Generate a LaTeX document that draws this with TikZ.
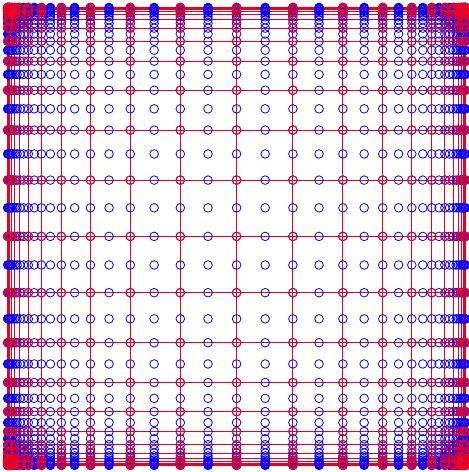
\documentclass[tikz,border=0pt]{standalone}
\usepackage{tikz}
\definecolor{meshRed}{RGB}{235,0,35}
\definecolor{meshBlue}{RGB}{0,0,255}

\begin{document}
\begin{tikzpicture}[x=1pt,y=1pt]
  \tikzstyle{coarse}=[meshRed,line width=1pt]
  \tikzstyle{finept}=[draw=meshBlue,line width=0.8pt]
  \tikzstyle{coarsept}=[draw=meshRed,line width=0.9pt]
  \useasboundingbox (0,0) rectangle (469,472);
  \coordinate (mid) at (236.6,235.6);

  % coarse mesh lines, tanh stretched
  \foreach \i in {-12,...,12}{
    \pgfmathsetmacro{\p}{230.1*tanh(0.25*\i)}
    \draw[coarse] ([xshift=\p]mid |- 0,6.6) -- ([xshift=\p]mid |- 0,464.6);
    \draw[coarse] ([yshift=\p]mid -| 7.6,0) -- ([yshift=\p]mid -| 465.6,0);
  }

  % fine points
  \foreach \i in {-24,...,24}{
    \pgfmathsetmacro{\p}{230.1*tanh(0.125*\i)}
    \foreach \j in {-24,...,24}{
      \pgfmathsetmacro{\q}{230.1*tanh(0.125*\j)}
      \draw[finept] ([shift={(\p,\q)}]mid) circle[radius=4.3];
    }
  }

  % coarse points
  \foreach \i in {-12,...,12}{
    \pgfmathsetmacro{\p}{230.1*tanh(0.25*\i)}
    \foreach \j in {-12,...,12}{
      \pgfmathsetmacro{\q}{230.1*tanh(0.25*\j)}
      \draw[coarsept] ([shift={(\p,\q)}]mid) circle[radius=4.3];
    }
  }
\end{tikzpicture}
\end{document}
